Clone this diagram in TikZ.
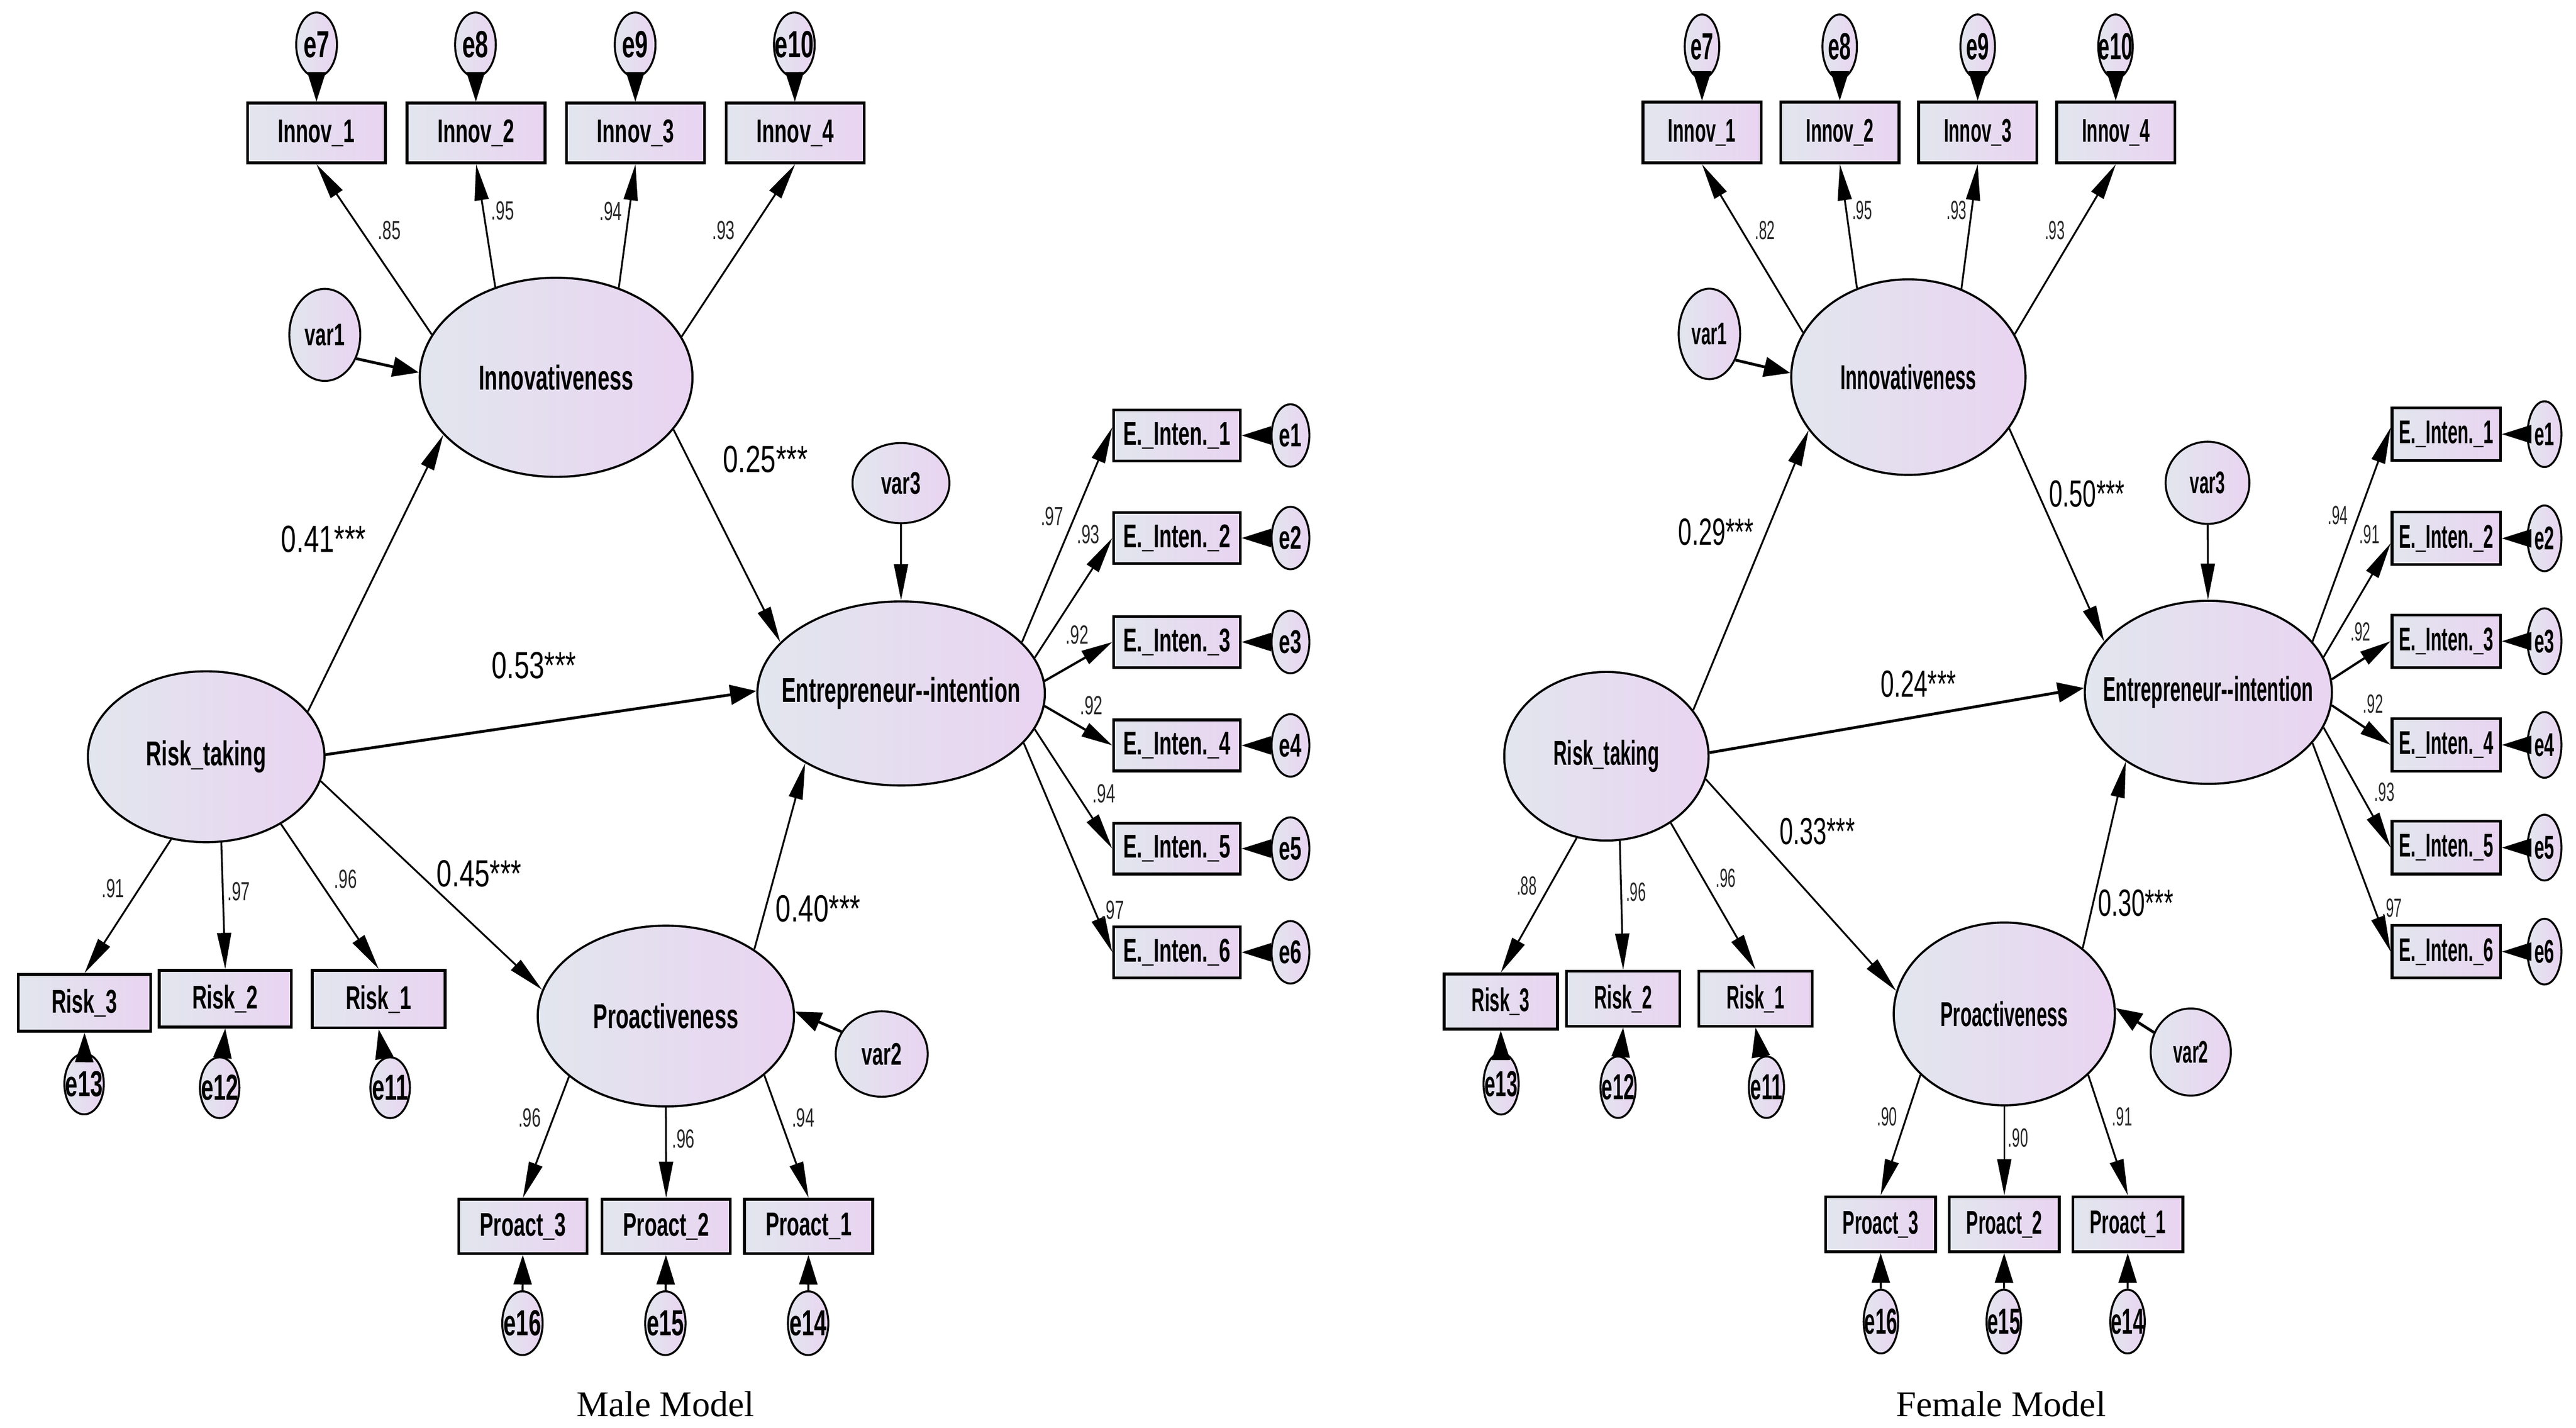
\documentclass[tikz,border=0pt]{standalone}
\usepackage{fontspec}
\usetikzlibrary{shapes.geometric,arrows.meta}
\newfontfamily\amosM{Liberation Sans}[FakeStretch=0.62]
\newfontfamily\amosMC{Liberation Sans}[FakeStretch=0.72]
\newfontfamily\amosF{Liberation Sans}[FakeStretch=0.545]
\newfontfamily\amosFC{Liberation Sans}[FakeStretch=0.64]
\newfontfamily\capfont{Liberation Serif}
\definecolor{cL}{RGB}{226,230,238}
\definecolor{cR}{RGB}{233,212,241}
\definecolor{ldc}{RGB}{40,40,40}
\tikzset{
  base/.style={draw=black, left color=cL, right color=cR, inner sep=0pt, text=black},
  lat/.style={base, ellipse, line width=1.3pt},
  obs/.style={base, rectangle, line width=1.7pt},
  err/.style={base, ellipse, line width=1.2pt},
  sz/.style 2 args={minimum width=#1pt, minimum height=#2pt},
  mlat/.style={font=\amosM\bfseries\fontsize{21}{25}\selectfont},
  flat/.style={font=\amosF\bfseries\fontsize{21}{25}\selectfont},
  mobs/.style={font=\amosM\bfseries\fontsize{20}{24}\selectfont},
  fobs/.style={font=\amosF\bfseries\fontsize{20}{24}\selectfont},
  mtop/.style={font=\amosM\bfseries\fontsize{23}{27}\selectfont},
  ftop/.style={font=\amosF\bfseries\fontsize{23}{27}\selectfont},
  mlow/.style={font=\amosM\bfseries\fontsize{22}{26}\selectfont},
  flow/.style={font=\amosF\bfseries\fontsize{22}{26}\selectfont},
  mvar/.style={font=\amosM\bfseries\fontsize{19}{23}\selectfont},
  fvar/.style={font=\amosF\bfseries\fontsize{19}{23}\selectfont},
  mld/.style={inner sep=0pt, text=ldc, font=\amosM\fontsize{16}{19}\selectfont},
  fld/.style={inner sep=0pt, text=ldc, font=\amosF\fontsize{16}{19}\selectfont},
  mco/.style={inner sep=0pt, font=\amosMC\fontsize{23}{27}\selectfont},
  fco/.style={inner sep=0pt, font=\amosFC\fontsize{23}{27}\selectfont},
  captext/.style={inner sep=0pt, font=\capfont\fontsize{22}{26}\selectfont},
  arr/.style={-{Triangle[length=22pt,width=8.5pt]}, line width=1.1pt},
  arrM/.style={-{Triangle[length=19pt,width=9pt]}, line width=1.4pt},
  arrT/.style={-{Triangle[length=16pt,width=12pt]}, line width=1.7pt},
  earr/.style={-{Triangle[length=18pt,width=11pt]}, line width=1.2pt},
}
\begin{document}
\begin{tikzpicture}[x=1pt,y=-1pt]
\useasboundingbox (0,0) rectangle (1568,868.8);

% ================= MALE MODEL =================
\node[err, sz={24.8}{39.2}, mtop] (e7m)  at (192.7,27.2) {\makebox[0pt]{e7}};
\node[err, sz={24.8}{39.2}, mtop] (e8m)  at (289.4,27.2) {\makebox[0pt]{e8}};
\node[err, sz={24.8}{39.2}, mtop] (e9m)  at (386.6,27.2) {\makebox[0pt]{e9}};
\node[err, sz={24.8}{39.2}, mtop] (e10m) at (483.5,27.2) {\makebox[0pt]{e10}};
\node[obs, sz={84}{36.4}, mobs] (I1m) at (192.6,80.9) {Innov\_1};
\node[obs, sz={84}{36.4}, mobs] (I2m) at (289.8,80.9) {Innov\_2};
\node[obs, sz={84}{36.4}, mobs] (I3m) at (386.8,80.9) {Innov\_3};
\node[obs, sz={84}{36.4}, mobs] (I4m) at (484.0,80.9) {Innov\_4};
\node[lat, sz={166}{121.2}, mlat] (INm) at (338.5,229.6) {\makebox[0pt]{Innovativeness}};
\node[lat, sz={144}{104}, mlat] (RTm) at (125.5,460.5) {\makebox[0pt]{Risk\_taking}};
\node[lat, sz={175}{112}, mlat] (EIm) at (548.5,422) {\makebox[0pt]{Entrepreneur-{}-intention}};
\node[lat, sz={156}{110}, mlat] (PRm) at (405.3,618.3) {\makebox[0pt]{Proactiveness}};
\node[err, sz={43.2}{56}, mvar] (var1m) at (197.7,203.8) {\makebox[0pt]{var1}};
\node[err, sz={59}{48.8}, mvar] (var3m) at (548.4,294) {\makebox[0pt]{var3}};
\node[err, sz={56}{52}, mvar] (var2m) at (536.7,641.4) {\makebox[0pt]{var2}};
\node[obs, sz={77}{31}, mobs] (EB1m) at (716.4,265)   {E.\_Inten.\_1};
\node[obs, sz={77}{31}, mobs] (EB2m) at (716.4,327.4) {E.\_Inten.\_2};
\node[obs, sz={77}{31}, mobs] (EB3m) at (716.4,390.7) {E.\_Inten.\_3};
\node[obs, sz={77}{31}, mobs] (EB4m) at (716.4,453.6) {E.\_Inten.\_4};
\node[obs, sz={77}{31}, mobs] (EB5m) at (716.4,516.4) {E.\_Inten.\_5};
\node[obs, sz={77}{31}, mobs] (EB6m) at (716.4,579.5) {E.\_Inten.\_6};
\node[err, sz={23}{38}, mobs] (e1m) at (785.5,265)   {\makebox[0pt]{e1}};
\node[err, sz={23}{38}, mobs] (e2m) at (785.5,327.4) {\makebox[0pt]{e2}};
\node[err, sz={23}{38}, mobs] (e3m) at (785.5,390.7) {\makebox[0pt]{e3}};
\node[err, sz={23}{38}, mobs] (e4m) at (785.5,453.6) {\makebox[0pt]{e4}};
\node[err, sz={23}{38}, mobs] (e5m) at (785.5,516.4) {\makebox[0pt]{e5}};
\node[err, sz={23}{38}, mobs] (e6m) at (785.5,579.5) {\makebox[0pt]{e6}};
\node[obs, sz={80.5}{34.5}, mobs] (R3m) at (51.45,610.3) {Risk\_3};
\node[obs, sz={80.4}{34.5}, mobs] (R2m) at (137.1,607.8) {Risk\_2};
\node[obs, sz={81}{35}, mobs]     (R1m) at (230.5,608)   {Risk\_1};
\node[err, sz={24}{37}, mlow] (e13m) at (51.2,659.6)  {\makebox[0pt]{e13}};
\node[err, sz={24}{37}, mlow] (e12m) at (133.7,661.9) {\makebox[0pt]{e12}};
\node[err, sz={24}{37}, mlow] (e11m) at (237.5,661.9) {\makebox[0pt]{e11}};
\node[obs, sz={78}{33}, mobs] (PB3m) at (318.3,746.3) {Proact\_3};
\node[obs, sz={78}{33}, mobs] (PB2m) at (405.5,746.3) {Proact\_2};
\node[obs, sz={78}{33}, mobs] (PB1m) at (492.2,746.3) {Proact\_1};
\node[err, sz={24.6}{38.8}, mlow] (e16m) at (318,805.2)   {\makebox[0pt]{e16}};
\node[err, sz={24.6}{38.8}, mlow] (e15m) at (405,805.2)   {\makebox[0pt]{e15}};
\node[err, sz={24.6}{38.8}, mlow] (e14m) at (491.9,805.2) {\makebox[0pt]{e14}};

\draw[arr] (INm.161.4) -- (I1m.south);
\draw[arr] (INm.124.5) -- (I2m.south);
\draw[arr] (INm.55.8) -- (I3m.south);
\draw[arr] (INm.18.8) -- (I4m.south);
\draw[earr] (e7m) -- (I1m);
\draw[earr] (e8m) -- (I2m);
\draw[earr] (e9m) -- (I3m);
\draw[earr] (e10m) -- (I4m);
\draw[arrT] (var1m.-37) -- (INm.178);
\draw[arr] (RTm.24.7) -- (INm.-153.9);
\draw[arrT] (RTm.1.7) -- (EIm.179);
\draw[arr] (RTm.-12.3) -- (PRm.168.9);
\draw[arr] (INm.-24.6) -- (EIm.157.6);
\draw[arr] (PRm.37) -- (EIm.-144.7);
\draw[arr] (var3m) -- (EIm);
\draw[arrT] (var2m.151.5) -- (PRm.2.1);
\draw[arr] (EIm.23.2) -- ([yshift=5pt]EB1m.west);
\draw[arr] (EIm.15.3) -- (EB2m.west);
\draw[arrM] (EIm.5.4) -- (EB3m.west);
\draw[arrM] (EIm.-5.5) -- (EB4m.west);
\draw[arr] (EIm.-15.6) -- (EB5m.west);
\draw[arr] (EIm.-22.7) -- (EB6m.west);
\draw[earr] (e1m) -- (EB1m);
\draw[earr] (e2m) -- (EB2m);
\draw[earr] (e3m) -- (EB3m);
\draw[earr] (e4m) -- (EB4m);
\draw[earr] (e5m) -- (EB5m);
\draw[earr] (e6m) -- (EB6m);
\draw[arr] (RTm.-113.4) -- (R3m.north);
\draw[arr] (RTm.-80.6) -- (R2m.north);
\draw[arr] (RTm.-42.5) -- (R1m.north);
\draw[earr] (e13m) -- (R3m.south);
\draw[earr] (e12m) -- (R2m.south);
\draw[earr] (e11m) -- (R1m.south);
\draw[arr] (PRm.-148.6) -- (PB3m.north);
\draw[arr] (PRm.-90) -- (PB2m.north);
\draw[arr] (PRm.-31.4) -- (PB1m.north);
\draw[earr] (e16m) -- (PB3m);
\draw[earr] (e15m) -- (PB2m);
\draw[earr] (e14m) -- (PB1m);

\node[mld] (l1m) at (237,140.3) {.85};
\node[mld] (l2m) at (306,128.1) {.95};
\node[mld] (l3m) at (371.7,128.7) {.94};
\node[mld] (l4m) at (440.4,140.3) {.93};
\node[mld] (l5m) at (640.4,314.2) {.97};
\node[mld] (l6m) at (662.5,325.2) {.93};
\node[mld] (l7m) at (655.7,386.3) {.92};
\node[mld] (l8m) at (664.3,429.2) {.92};
\node[mld] (l9m) at (672,482.8) {.94};
\node[mld] (l10m) at (677.3,553.7) {.97};
\node[mld] (l11m) at (68.8,540.6) {.91};
\node[mld] (l12m) at (145.3,542.5) {.97};
\node[mld] (l13m) at (210.4,535) {.96};
\node[mld] (l14m) at (322.4,680.2) {.96};
\node[mld] (l15m) at (415.9,693) {.96};
\node[mld] (l16m) at (488.9,680.2) {.94};
\node[mco] (c1m) at (465.9,279.6) {0.25***};
\node[mco] (c2m) at (197,328) {0.41***};
\node[mco] (c3m) at (325,405) {0.53***};
\node[mco] (c4m) at (291.7,531.5) {0.45***};
\node[mco] (c5m) at (498,553) {0.40***};
\node[captext] (capm) at (405,854.5) {Male Model};

% ================= FEMALE MODEL =================
\node[err, sz={21}{39}, ftop] (e7f)  at (1036,28.3)   {\makebox[0pt]{e7}};
\node[err, sz={21}{39}, ftop] (e8f)  at (1119.8,28.3) {\makebox[0pt]{e8}};
\node[err, sz={21}{39}, ftop] (e9f)  at (1203.8,28.3) {\makebox[0pt]{e9}};
\node[err, sz={21}{39}, ftop] (e10f) at (1287.7,28.3) {\makebox[0pt]{e10}};
\node[obs, sz={72}{37}, fobs] (I1f) at (1036,80.6)   {Innov\_1};
\node[obs, sz={72}{37}, fobs] (I2f) at (1119.9,80.6) {Innov\_2};
\node[obs, sz={72}{37}, fobs] (I3f) at (1203.8,80.6) {Innov\_3};
\node[obs, sz={72}{37}, fobs] (I4f) at (1287.9,80.6) {Innov\_4};
\node[lat, sz={142.6}{119}, flat] (INf) at (1161.6,229.5) {\makebox[0pt]{Innovativeness}};
\node[lat, sz={124.4}{102.6}, flat] (RTf) at (977.8,460.2) {\makebox[0pt]{Risk\_taking}};
\node[lat, sz={150.4}{111.4}, flat] (EIf) at (1344.2,421.3) {\makebox[0pt]{Entrepreneur-{}-intention}};
\node[lat, sz={134.6}{111.2}, flat] (PRf) at (1220,617) {\makebox[0pt]{Proactiveness}};
\node[err, sz={37.4}{55}, fvar] (var1f) at (1040.5,203.2) {\makebox[0pt]{var1}};
\node[err, sz={51}{50}, fvar] (var3f) at (1343.7,293.8) {\makebox[0pt]{var3}};
\node[err, sz={48.8}{53}, fvar] (var2f) at (1333.5,640.2) {\makebox[0pt]{var2}};
\node[obs, sz={66}{32}, fobs] (EB1f) at (1489,264.2) {E.\_Inten.\_1};
\node[obs, sz={66}{32}, fobs] (EB2f) at (1489,327.6) {E.\_Inten.\_2};
\node[obs, sz={66}{32}, fobs] (EB3f) at (1489,390.2) {E.\_Inten.\_3};
\node[obs, sz={66}{32}, fobs] (EB4f) at (1489,453.3) {E.\_Inten.\_4};
\node[obs, sz={66}{32}, fobs] (EB5f) at (1489,515.8) {E.\_Inten.\_5};
\node[obs, sz={66}{32}, fobs] (EB6f) at (1489,579.1) {E.\_Inten.\_6};
\node[err, sz={20.6}{40}, fobs] (e1f) at (1548.8,264.2) {\makebox[0pt]{e1}};
\node[err, sz={20.6}{40}, fobs] (e2f) at (1548.8,327.6) {\makebox[0pt]{e2}};
\node[err, sz={20.6}{40}, fobs] (e3f) at (1548.8,390.2) {\makebox[0pt]{e3}};
\node[err, sz={20.6}{40}, fobs] (e4f) at (1548.8,453.3) {\makebox[0pt]{e4}};
\node[err, sz={20.6}{40}, fobs] (e5f) at (1548.8,515.8) {\makebox[0pt]{e5}};
\node[err, sz={20.6}{40}, fobs] (e6f) at (1548.8,579.1) {\makebox[0pt]{e6}};
\node[obs, sz={69}{33.5}, fobs] (R3f) at (913.5,609.5) {Risk\_3};
\node[obs, sz={69}{33.5}, fobs] (R2f) at (988,607.7)   {Risk\_2};
\node[obs, sz={69}{33.5}, fobs] (R1f) at (1068.6,607.7) {Risk\_1};
\node[err, sz={21.4}{37.4}, flow] (e13f) at (913.7,659.5)  {\makebox[0pt]{e13}};
\node[err, sz={21.4}{37.4}, flow] (e12f) at (984.9,661.6)  {\makebox[0pt]{e12}};
\node[err, sz={21.4}{37.4}, flow] (e11f) at (1075.2,661.6) {\makebox[0pt]{e11}};
\node[obs, sz={67}{33.5}, fobs] (PB3f) at (1144.7,745) {Proact\_3};
\node[obs, sz={67}{33.5}, fobs] (PB2f) at (1220,745)   {Proact\_2};
\node[obs, sz={67}{33.5}, fobs] (PB1f) at (1295.2,745) {Proact\_1};
\node[err, sz={21}{38.8}, flow] (e16f) at (1144.9,804.2) {\makebox[0pt]{e16}};
\node[err, sz={21}{38.8}, flow] (e15f) at (1219.7,804.2) {\makebox[0pt]{e15}};
\node[err, sz={21}{38.8}, flow] (e14f) at (1295,804.2)   {\makebox[0pt]{e14}};

\draw[arr] (INf.157.8) -- (I1f.south);
\draw[arr] (INf.120.5) -- (I2f.south);
\draw[arr] (INf.59.4) -- (I3f.south);
\draw[arr] (INf.22.3) -- (I4f.south);
\draw[earr] (e7f) -- (I1f);
\draw[earr] (e8f) -- (I2f);
\draw[earr] (e9f) -- (I3f);
\draw[earr] (e10f) -- (I4f);
\draw[arrT] (var1f.-45) -- (INf.178);
\draw[arr] (RTf.28.6) -- (INf.-152.7);
\draw[arrT] (RTf.2) -- (EIf.178.5);
\draw[arr] (RTf.-13.6) -- (PRf.168.2);
\draw[arr] (INf.-27) -- (EIf.154.3);
\draw[arr] (PRf.40.2) -- (EIf.-140);
\draw[arr] (var3f) -- (EIf);
\draw[arrT] (var2f.152.5) -- (PRf.3.5);
\draw[arr] (EIf.26.8) -- ([yshift=4pt]EB1f.west);
\draw[arr] (EIf.17.6) -- ([yshift=-3pt]EB2f.west);
\draw[arrM] (EIf.6.1) -- (EB3f.west);
\draw[arrM] (EIf.-6.5) -- (EB4f.west);
\draw[arr] (EIf.-17.3) -- (EB5f.west);
\draw[arr] (EIf.-26.7) -- (EB6f.west);
\draw[earr] (e1f) -- (EB1f);
\draw[earr] (e2f) -- (EB2f);
\draw[earr] (e3f) -- (EB3f);
\draw[earr] (e4f) -- (EB4f);
\draw[earr] (e5f) -- (EB5f);
\draw[earr] (e6f) -- (EB6f);
\draw[arr] (RTf.-110.6) -- (R3f.north);
\draw[arr] (RTf.-81.2) -- (R2f.north);
\draw[arr] (RTf.-46.3) -- (R1f.north);
\draw[earr] (e13f) -- (R3f.south);
\draw[earr] (e12f) -- (R2f.south);
\draw[earr] (e11f) -- (R1f.south);
\draw[arr] (PRf.-144) -- (PB3f.north);
\draw[arr] (PRf.-90) -- (PB2f.north);
\draw[arr] (PRf.-36.3) -- (PB1f.north);
\draw[earr] (e16f) -- (PB3f);
\draw[earr] (e15f) -- (PB2f);
\draw[earr] (e14f) -- (PB1f);

\node[fld] (l1f) at (1074.3,140.2) {.82};
\node[fld] (l2f) at (1133.5,128) {.95};
\node[fld] (l3f) at (1191,128) {.93};
\node[fld] (l4f) at (1250.8,140.2) {.93};
\node[fld] (l5f) at (1423.1,313.6) {.94};
\node[fld] (l6f) at (1442.3,325.2) {.91};
\node[fld] (l7f) at (1436.8,384.4) {.92};
\node[fld] (l8f) at (1444.5,428.3) {.92};
\node[fld] (l9f) at (1451.4,482.1) {.93};
\node[fld] (l10f) at (1455.9,552.4) {.97};
\node[fld] (l11f) at (929.3,539) {.88};
\node[fld] (l12f) at (995.8,542.8) {.96};
\node[fld] (l13f) at (1050.5,534.5) {.96};
\node[fld] (l14f) at (1148.6,679.5) {.90};
\node[fld] (l15f) at (1228.4,692.4) {.90};
\node[fld] (l16f) at (1291.8,679.5) {.91};
\node[fco] (c1f) at (1270.3,300.6) {0.50***};
\node[fco] (c2f) at (1044.6,323.7) {0.29***};
\node[fco] (c3f) at (1167.7,416.2) {0.24***};
\node[fco] (c4f) at (1106.2,506) {0.33***};
\node[fco] (c5f) at (1300,549.4) {0.30***};
\node[captext] (capf) at (1218,854.5) {Female Model};
\end{tikzpicture}
\end{document}
